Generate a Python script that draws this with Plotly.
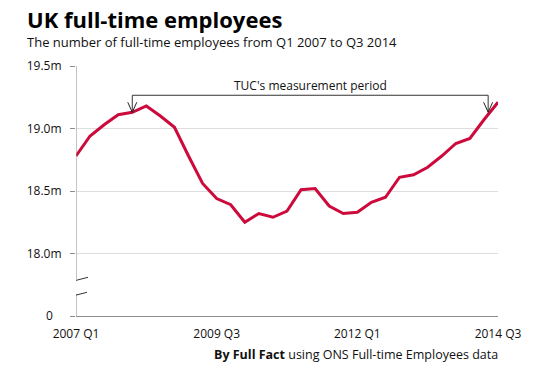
import plotly.graph_objects as go

# ---- data ----
years = [2007, 2008, 2009, 2010, 2011, 2012, 2013, 2014]
quarters = [f"{y} Q{q}" for y in years for q in (1, 2, 3, 4)][:31]  # 2007 Q1 .. 2014 Q3

employees_m = [
    18.78, 18.94, 19.03, 19.11, 19.13, 19.18, 19.10, 19.01,
    18.78, 18.56, 18.44, 18.39, 18.25, 18.32, 18.29, 18.34,
    18.51, 18.52, 18.38, 18.32, 18.33, 18.41, 18.45, 18.61,
    18.63, 18.69, 18.78, 18.88, 18.92, 19.07, 19.21,
]

x_tick_labels = ["2007 Q1", "2009 Q3", "2012 Q1", "2014 Q3"]
y_tick_vals = [17.5, 18.0, 18.5, 19.0, 19.5]
y_tick_text = ["0\u2007\u2009", "18.0m", "18.5m", "19.0m", "19.5m"]

# annotation bracket (TUC's measurement period)
period_start_idx = 4      # 2008 Q1
period_end_idx = 29.3     # ~2014 Q2
bracket_level = 19.266
arrow_tip_level = 19.13

# axis break (between 0 and 18.0m)
break_low, break_high = 17.676, 17.796

RED = "#cc0a3c"
AXIS = "#8c8c8c"
GRID = "#dddddd"
TXT = "#111111"
FONT = "Open Sans"

x_idx = list(range(len(quarters)))
x_tick_vals = [quarters.index(l) for l in x_tick_labels]

fig = go.Figure()
fig.add_trace(go.Scatter(
    x=x_idx, y=employees_m, mode="lines",
    line=dict(color=RED, width=3), hoverinfo="skip", showlegend=False,
))

# bracket
fig.add_trace(go.Scatter(
    x=[period_start_idx, period_start_idx, period_end_idx, period_end_idx],
    y=[arrow_tip_level, bracket_level, bracket_level, arrow_tip_level],
    mode="lines", line=dict(color="#333333", width=1),
    hoverinfo="skip", showlegend=False,
))

shapes = []
# open arrowheads (pixel-sized V shapes anchored at the tips)
for xi in (period_start_idx, period_end_idx):
    shapes.append(dict(
        type="path", xref="x", yref="y",
        xsizemode="pixel", ysizemode="pixel",
        xanchor=xi, yanchor=arrow_tip_level,
        path="M-4.5,10 L0,0 L4.5,10",
        line=dict(color="#222222", width=1),
    ))

# y-axis line with a break
shapes.append(dict(type="line", xref="x", yref="y", x0=0, x1=0, y0=break_high, y1=19.5,
                   line=dict(color=AXIS, width=1)))
shapes.append(dict(type="line", xref="x", yref="y", x0=0, x1=0, y0=17.5, y1=break_low,
                   line=dict(color=AXIS, width=1)))
# break slashes
brk_mid = (break_low + break_high) / 2
for p in ("M-10.3,3.5 L12,9.2", "M-11.3,-11.5 L11,-5.8"):
    shapes.append(dict(
        type="path", xref="x", yref="y",
        xsizemode="pixel", ysizemode="pixel",
        xanchor=0, yanchor=brk_mid, path=p,
        line=dict(color="#333333", width=1),
    ))

annotations = [
    dict(text="UK full-time employees", xref="paper", yref="paper",
         x=-0.1209, y=1.19, xanchor="left", yanchor="middle", showarrow=False,
         font=dict(family=FONT, size=22, color="#000000", weight="bold")),
    dict(text="The number of full-time employees from Q1 2007 to Q3 2014",
         xref="paper", yref="paper", x=-0.1209, y=1.097,
         xanchor="left", yanchor="middle", showarrow=False,
         font=dict(family=FONT, size=13, color=TXT)),
    dict(text="<b>By Full Fact</b> using ONS Full-time Employees data",
         xref="paper", yref="paper", x=1.0047, y=-0.154,
         xanchor="right", yanchor="middle", showarrow=False,
         font=dict(family=FONT, size=12.5, color=TXT)),
    dict(text="TUC's measurement period", xref="x", yref="y",
         x=(period_start_idx + period_end_idx) / 2, y=bracket_level,
         xanchor="center", yanchor="bottom", yshift=-1, showarrow=False,
         font=dict(family=FONT, size=12, color=TXT)),
]

# the page body adds an 8px offset, so the figure is 8px smaller on each axis
fig.update_layout(
    template="none",
    width=532, height=360,
    margin=dict(l=68, r=42, t=58, b=52, autoexpand=False),
    paper_bgcolor="white", plot_bgcolor="white",
    font=dict(family=FONT, size=12, color=TXT),
    shapes=shapes, annotations=annotations,
    xaxis=dict(
        range=[0, 30], automargin=False,
        tickmode="array", tickvals=x_tick_vals, ticktext=x_tick_labels,
        showgrid=False, zeroline=False,
        showline=True, linecolor=AXIS, linewidth=1,
        ticks="", ticklabelstandoff=7, tickfont=dict(size=12, color=TXT),
    ),
    yaxis=dict(
        range=[17.5, 19.5], automargin=False, tickmode="array",
        tickvals=y_tick_vals, ticktext=y_tick_text,
        showgrid=True, gridcolor=GRID, gridwidth=1, zeroline=False,
        showline=False, ticks="outside", ticklen=5, tickcolor=AXIS,
        ticklabelstandoff=6, tickfont=dict(size=12, color=TXT),
    ),
)

fig.write_html("out.html")
